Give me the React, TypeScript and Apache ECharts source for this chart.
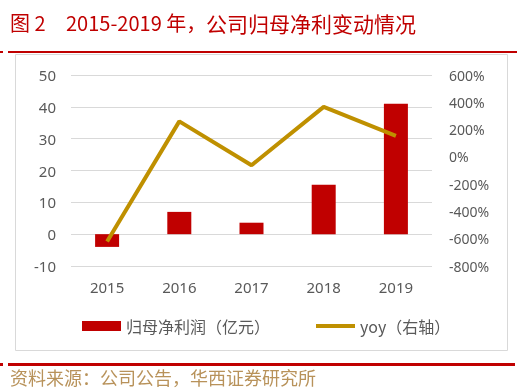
import React, { useEffect, useRef } from "react";
import * as echarts from "echarts";

const years = ["2015", "2016", "2017", "2018", "2019"];
const netProfit = [-4.0, 7.0, 3.6, 15.5, 41.0];
const yoy = [-620, 260, -62, 366, 154];

const titleFig = "图 2";
const titleYears = "2015-2019 年，";
const titleMain = "公司归母净利变动情况";
const sourceText = "资料来源：公司公告，华西证券研究所";
const barName = "归母净利润（亿元）";
const lineName = "yoy（右轴）";

const FONT = "'Noto Sans', 'Noto Sans CJK SC', sans-serif";
const CJK = "'Noto Sans CJK SC', sans-serif";

export default function App() {
  const ref = useRef<HTMLDivElement>(null);
  useEffect(() => {
    const chart = echarts.init(ref.current!, null, { renderer: "svg" });
    chart.setOption({
      animation: false,
      textStyle: { fontFamily: FONT },
      graphic: [
        { type: "text", left: 10, top: 12, style: { text: titleFig, fill: "#c00000", font: "20px " + CJK } },
        { type: "text", left: 66, top: 12, style: { text: titleYears, fill: "#c00000", font: "20px " + CJK } },
        { type: "text", left: 206, top: 12, style: { text: titleMain, fill: "#c00000", font: "21px " + CJK } },
        { type: "rect", shape: { x: 0, y: 51, width: 3, height: 2 }, style: { fill: "#c00000" } },
        { type: "rect", shape: { x: 8, y: 51, width: 509, height: 2 }, style: { fill: "#c00000" } },
        { type: "rect", shape: { x: 15.5, y: 54.5, width: 492, height: 296 }, style: { fill: "none", stroke: "#d9d9d9", lineWidth: 1 } },
        { type: "rect", shape: { x: 0, y: 363, width: 3, height: 3 }, style: { fill: "#c00000" } },
        { type: "rect", shape: { x: 8, y: 363, width: 507, height: 3 }, style: { fill: "#c00000" } },
        { type: "text", left: 10, top: 368, style: { text: sourceText, fill: "#b8925a", font: "18px " + CJK } },
      ],
      grid: { left: 71, right: 86, top: 75, bottom: 126 },
      legend: {
        left: 77,
        top: 313,
        itemWidth: 39,
        itemHeight: 10,
        itemGap: 44,
        textStyle: { color: "#595959", fontSize: 16, fontFamily: CJK },
        data: [
          { name: barName, icon: "rect" },
          { name: lineName, itemStyle: { opacity: 0 }, lineStyle: { width: 4, color: "#bf9000" } },
        ],
      },
      xAxis: {
        type: "category",
        data: years,
        axisLine: { show: false },
        axisTick: { show: false },
        axisLabel: { color: "#595959", fontSize: 15, margin: 13 },
      },
      yAxis: [
        {
          type: "value",
          min: -10,
          max: 50,
          interval: 10,
          axisLine: { show: false },
          axisTick: { show: false },
          axisLabel: { color: "#595959", fontSize: 15, margin: 15 },
          splitLine: { lineStyle: { color: "#d9d9d9", width: 1 } },
        },
        {
          type: "value",
          min: -800,
          max: 600,
          interval: 200,
          axisLine: { show: false },
          axisTick: { show: false },
          axisLabel: { color: "#595959", fontSize: 14, margin: 17, formatter: "{value}%" },
          splitLine: { show: false },
        },
      ],
      series: [
        {
          name: barName,
          type: "bar",
          data: netProfit,
          barWidth: 24,
          itemStyle: { color: "#c00000" },
        },
        {
          name: lineName,
          type: "line",
          yAxisIndex: 1,
          data: yoy,
          symbol: "none",
          lineStyle: { color: "#bf9000", width: 4 },
          itemStyle: { color: "#bf9000" },
        },
      ],
    });
    return () => chart.dispose();
  }, []);
  return <div ref={ref} style={{ position: "fixed", left: 0, top: 0, width: 518, height: 392 }} />;
}
